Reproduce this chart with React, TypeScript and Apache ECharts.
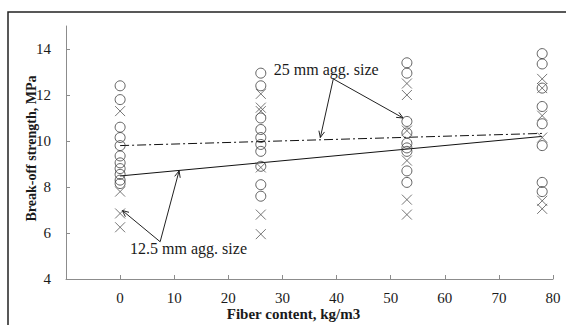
import React, { useEffect, useRef } from "react";
import * as echarts from "echarts";

// Fiber contents (kg/m3) of the four measured mixes
const fiberContents = [0, 26, 53, 78];

// Break-off strength readings (MPa) drawn as circles, one list per fiber content
const circleValues = [
  [12.4, 11.8, 10.6, 10.15, 9.8, 9.35, 9.05, 8.8, 8.55, 8.3, 8.15],
  [12.95, 12.4, 11.0, 10.5, 10.15, 9.85, 9.55, 8.9, 8.1, 7.6],
  [13.4, 12.95, 10.85, 10.35, 9.9, 9.7, 9.55, 8.7, 8.2],
  [13.8, 13.35, 12.3, 11.5, 10.75, 9.8, 8.2, 7.8],
];

// Break-off strength readings (MPa) drawn as crosses
const crossValues = [
  [11.3, 7.8, 6.85, 6.25],
  [12.05, 11.45, 11.3, 8.85, 6.8, 5.95],
  [12.5, 12.0, 10.45, 9.15, 7.45, 6.8],
  [12.7, 12.3, 11.1, 10.15, 7.4, 7.05],
];

// Trend lines: [fiber content, strength]
const trend125 = [
  [0, 8.48],
  [78, 10.2],
];
const trend25 = [
  [0, 9.8],
  [78, 10.33],
];

const xTickValues = [0, 10, 20, 30, 40, 50, 60, 70, 80];
const yTickValues = [4, 6, 8, 10, 12, 14];

const label25 = "25 mm agg. size";
const label125 = "12.5 mm agg. size";

const SERIF = '"Liberation Serif", "Times New Roman", serif';

function toPoints(values: number[][]) {
  const pts: number[][] = [];
  values.forEach((col, i) => {
    col.forEach((v) => pts.push([fiberContents[i], v]));
  });
  return pts;
}

function arrow(from: number[], to: number[]) {
  const a = Math.atan2(to[1] - from[1], to[0] - from[0]);
  const L = 7;
  const s = 0.42;
  return [
    {
      type: "line",
      silent: true,
      shape: { x1: from[0], y1: from[1], x2: to[0], y2: to[1] },
      style: { stroke: "#222", lineWidth: 1 },
    },
    {
      type: "polyline",
      silent: true,
      shape: {
        points: [
          [to[0] - L * Math.cos(a - s), to[1] - L * Math.sin(a - s)],
          [to[0], to[1]],
          [to[0] - L * Math.cos(a + s), to[1] - L * Math.sin(a + s)],
        ],
      },
      style: { stroke: "#222", lineWidth: 1, fill: "none" },
    },
  ];
}

export default function App() {
  const ref = useRef<HTMLDivElement>(null);

  useEffect(() => {
    if (!ref.current) return;
    const chart = echarts.init(ref.current, undefined, { renderer: "svg" });
    const axisColor = "#8c8c8c";
    const textColor = "#1a1a1a";

    chart.setOption({
      animation: false,
      backgroundColor: "#ffffff",
      grid: {
        left: 66,
        right: 13,
        top: 26,
        bottom: 46,
        containLabel: false,
        outerBoundsMode: "none",
      },
      xAxis: {
        type: "value",
        min: -10,
        max: 80,
        interval: 10,
        name: "Fiber content, kg/m3",
        nameLocation: "middle",
        nameGap: 28,
        nameMoveOverlap: false,
        nameTextStyle: {
          fontFamily: SERIF,
          fontWeight: "bold",
          fontSize: 15,
          lineHeight: 14,
          color: textColor,
          padding: [0, 32, 0, 0],
        },
        splitLine: { show: false },
        axisLine: {
          show: true,
          onZero: false,
          lineStyle: { color: axisColor, width: 1 },
        },
        axisTick: {
          show: true,
          inside: true,
          length: 4,
          customValues: xTickValues,
          lineStyle: { color: axisColor },
        },
        axisLabel: {
          customValues: xTickValues,
          margin: 13,
          fontFamily: SERIF,
          fontSize: 15,
          lineHeight: 12,
          color: textColor,
        },
      },
      yAxis: {
        type: "value",
        min: 4,
        max: 15,
        interval: 2,
        name: "Break-off strength, MPa",
        nameLocation: "middle",
        nameGap: 28,
        nameMoveOverlap: false,
        nameTextStyle: {
          fontFamily: SERIF,
          fontWeight: "bold",
          fontSize: 14,
          lineHeight: 14,
          color: textColor,
          padding: [0, 0, 0, 8],
        },
        splitLine: { show: false },
        axisLine: {
          show: true,
          onZero: false,
          lineStyle: { color: axisColor, width: 1 },
        },
        axisTick: {
          show: true,
          inside: true,
          length: 4,
          customValues: yTickValues,
          lineStyle: { color: axisColor },
        },
        axisLabel: {
          customValues: yTickValues,
          margin: 15,
          fontFamily: SERIF,
          fontSize: 15,
          color: textColor,
        },
      },
      series: [
        {
          type: "line",
          data: trend125,
          symbol: "none",
          lineStyle: { color: "#111", width: 1 },
          z: 1,
        },
        {
          type: "line",
          data: trend25,
          symbol: "none",
          lineStyle: { color: "#111", width: 1, type: [9, 3, 2, 3] },
          z: 1,
        },
        {
          type: "scatter",
          data: toPoints(circleValues),
          symbol: "circle",
          symbolSize: 10,
          itemStyle: {
            color: "rgba(255,255,255,0)",
            borderColor: "#3a3a3a",
            borderWidth: 1,
          },
          z: 3,
        },
        {
          type: "scatter",
          data: toPoints(crossValues),
          symbol: "path://M0,0L10,10M10,0L0,10",
          symbolSize: 10,
          itemStyle: {
            color: "rgba(255,255,255,0)",
            borderColor: "#555",
            borderWidth: 1,
          },
          z: 3,
        },
      ],
    });

    const px = (p: number[]) =>
      chart.convertToPixel({ gridIndex: 0 }, p) as number[];

    // annotation anchors in data coordinates
    const t25 = px([38.1, 13.13]);
    const o25 = px([39.4, 12.7]);
    const e25a = px([37, 10.15]);
    const e25b = px([52.3, 11.0]);
    const t125 = px([1.85, 5.31]);
    const o125 = px([7.4, 5.62]);
    const e125a = px([0.4, 6.98]);
    const e125b = px([10.9, 8.7]);

    chart.setOption({
      graphic: [
        {
          type: "rect",
          silent: true,
          z: -10,
          shape: { x: 8, y: 12, width: 700, height: 500 },
          style: { fill: "none", stroke: "#222", lineWidth: 1.5 },
        },
        ...arrow(o25, e25a),
        ...arrow(o25, e25b),
        ...arrow(o125, e125a),
        ...arrow(o125, e125b),
        {
          type: "text",
          silent: true,
          x: t25[0],
          y: t25[1],
          style: {
            text: label25,
            fontFamily: SERIF,
            fontSize: 16,
            fill: textColor,
            align: "center",
            verticalAlign: "middle",
          },
        },
        {
          type: "text",
          silent: true,
          x: t125[0],
          y: t125[1],
          style: {
            text: label125,
            fontFamily: SERIF,
            fontSize: 16,
            fill: textColor,
            align: "left",
            verticalAlign: "middle",
          },
        },
      ],
    });

    return () => chart.dispose();
  }, []);

  return (
    <div
      ref={ref}
      style={{ position: "absolute", left: 0, top: 0, width: 566, height: 325 }}
    />
  );
}
